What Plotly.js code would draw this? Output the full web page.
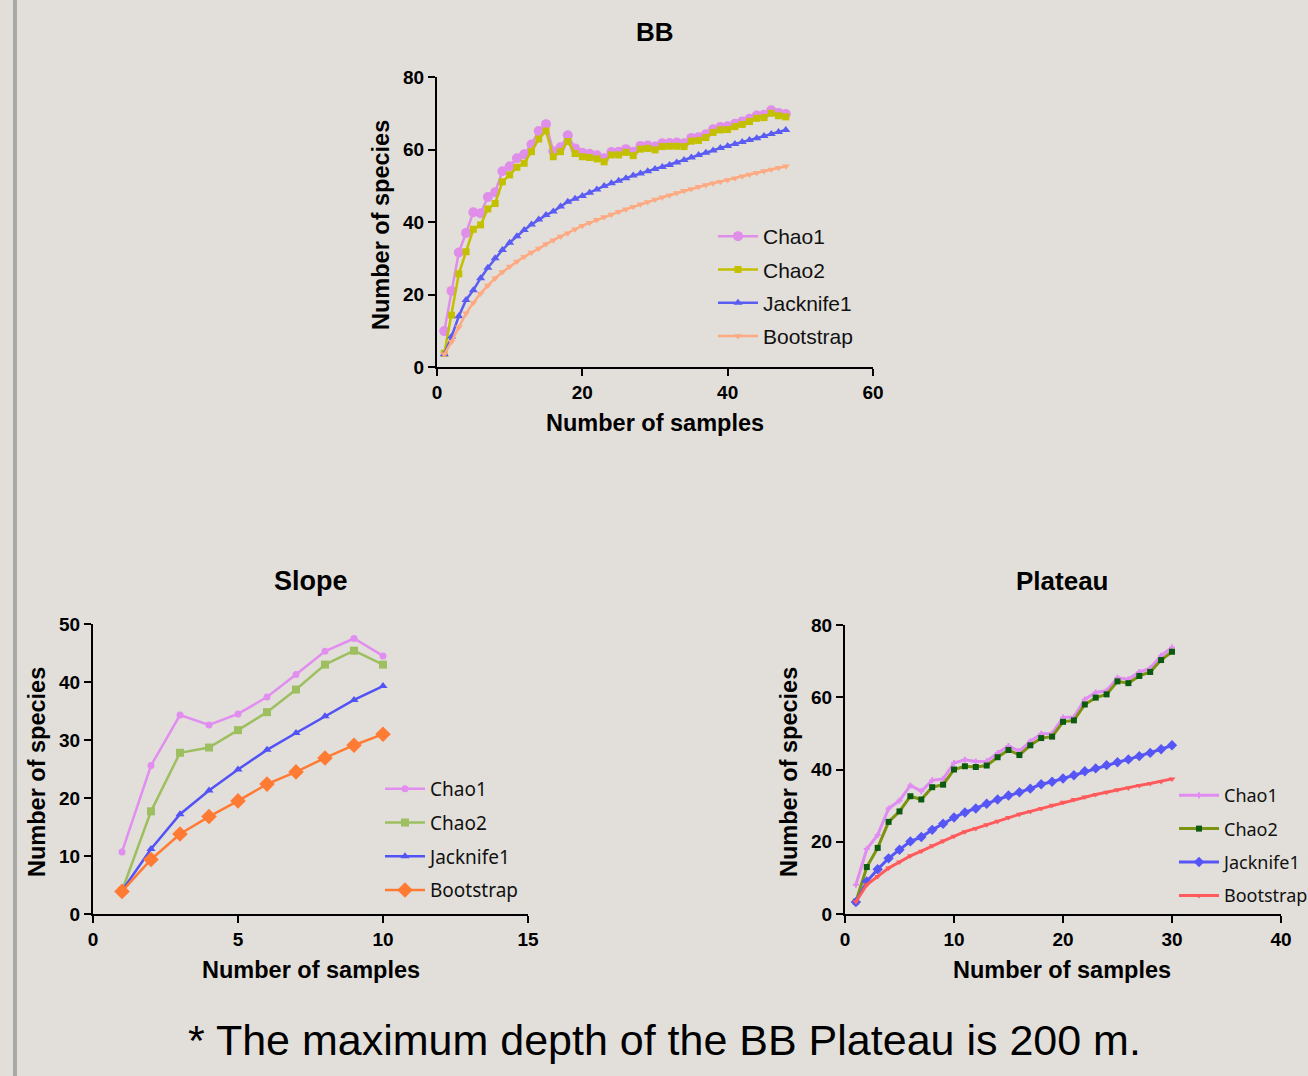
<!DOCTYPE html>
<html>
<head>
<meta charset="utf-8">
<script src="https://cdn.plot.ly/plotly-3.0.1.min.js"></script>
<style>
html,body{margin:0;padding:0;background:#e2dfda;}
#chart{width:1308px;height:1076px;}
</style>
</head>
<body>
<div id="chart"></div>
<script>
// ---------- DATA ----------
const seriesNames = ["Chao1", "Chao2", "Jacknife1", "Bootstrap"];

const bbSamples = [1,2,3,4,5,6,7,8,9,10,11,12,13,14,15,16,17,18,19,20,21,22,23,24,25,26,27,28,29,30,31,32,33,34,35,36,37,38,39,40,41,42,43,44,45,46,47,48];
const bbChao1 = [9.9,21,31.6,37,42.7,42.4,46.9,48.2,54,55.4,57.6,58.7,61.4,65.1,67,59.5,60.6,63.9,60.3,59.1,58.8,58.4,57.6,59.3,59.4,60.1,59.4,61,61.1,60.8,61.7,61.8,61.9,61.7,63.2,63.4,64.2,65.6,66.2,66.4,67.1,67.7,68.5,69.4,69.6,70.8,70.1,69.8];
const bbChao2 = [3.8,14.3,25.7,31.8,38,39.2,43.6,45.1,51.1,53,55.1,56.2,59.4,62.9,65.1,58,59.4,62.2,58.9,58,57.8,57.4,56.6,58.5,58.5,59.2,58.3,60.1,60.3,59.9,60.8,60.9,60.9,60.8,62.3,62.5,63.3,64.7,65.4,65.5,66.3,66.9,67.7,68.6,68.8,70,69.3,69];
const bbJack1 = [3.5,8.4,14,18.5,21.2,24.5,27.4,30,32.3,34.3,36.1,37.8,39.3,40.7,41.9,42.9,44.3,45.6,46.4,47.2,48.1,49,49.9,50.7,51.4,52.1,52.8,53.4,54,54.6,55.2,55.7,56.4,57.1,57.8,58.5,59.1,59.7,60.4,61,61.5,62.1,62.6,63.1,63.7,64.3,64.8,65.4];
const bbBoot = [3.5,7,11,14.8,17.7,20.3,22.5,24.5,26.2,27.7,29.1,30.4,31.6,32.7,33.9,35,36,36.9,38,39,39.8,40.6,41.4,42.1,42.8,43.5,44.2,44.9,45.5,46.2,46.8,47.4,48,48.6,49.1,49.7,50.2,50.7,51.1,51.6,52.1,52.6,53.1,53.6,54.1,54.5,55,55.4];

const slopeSamples = [1,2,3,4,5,6,7,8,9,10];
const slopeChao1 = [10.7,25.6,34.3,32.6,34.5,37.4,41.3,45.3,47.5,44.5];
const slopeChao2 = [4.0,17.7,27.8,28.7,31.7,34.8,38.7,43.0,45.4,43.0];
const slopeJack1 = [4.0,11.2,17.2,21.3,24.9,28.3,31.2,34.1,36.9,39.3];
const slopeBoot = [3.9,9.4,13.8,16.8,19.5,22.4,24.5,26.9,29.1,31.0];

const plateauSamples = [1,2,3,4,5,6,7,8,9,10,11,12,13,14,15,16,17,18,19,20,21,22,23,24,25,26,27,28,29,30];
const plateauChao1 = [8.1,18,21.9,29.2,31.4,35.6,34,37,37.4,41.8,42.7,42.2,42.3,44.6,46.5,45.1,47.8,49.9,50,54.4,54.5,59.4,61.3,61.8,65.4,65,67,68,71.5,73.8];
const plateauChao2 = [3.4,13,18.3,25.5,28.4,32.6,31.7,35.1,35.8,40,40.9,40.7,41.1,43.4,45.4,44,46.7,48.7,49.1,53.2,53.6,58,59.9,60.8,64.4,63.9,65.9,67,70.3,72.6];
const plateauJack1 = [3.3,9,12.4,15.4,17.8,20.1,21.3,23.3,25,26.7,28.1,29.2,30.5,31.7,32.8,33.7,34.7,35.9,36.6,37.5,38.4,39.5,40.3,41.2,42,42.8,43.7,44.6,45.6,46.7];
const plateauBoot = [3.4,8.1,10.4,12.7,14.4,16.1,17.4,18.9,20.2,21.5,22.8,23.7,24.7,25.7,26.7,27.6,28.4,29.2,30.1,30.9,31.7,32.4,33.1,33.7,34.4,34.9,35.6,36.1,36.7,37.4];

const panelTitles = ["BB", "Slope", "Plateau"];
const xTitle = "Number of samples";
const yTitle = "Number of species";
const note = "* The maximum depth of the BB Plateau is 200 m.";

// ---------- LAYOUT HELPERS ----------
const W = 1308, H = 1076;
const px = x => x / W;
const py = y => 1 - y / H;

const tickFont = {family: "Liberation Sans, Arial, sans-serif", size: 19, weight: "bold", color: "#000"};
function axis(d0, d1, range, dtick, anchor, isY) {
  const dom = isY ? [py(d1), py(d0)] : [px(d0), px(d1)];
  return {
    domain: dom, range: range, dtick: dtick, tick0: 0, anchor: anchor,
    showline: true, linewidth: 2, linecolor: "#000",
    ticks: "outside", ticklen: 7, tickwidth: 2, tickcolor: "#000",
    showgrid: false, zeroline: false, tickfont: tickFont, fixedrange: true,
    automargin: false
  };
}

function tr(x, y, name, xa, ya, leg, color, lw, sym, msize, mcolor) {
  return {
    x: x, y: y, name: name, type: "scatter", mode: "lines+markers",
    xaxis: xa, yaxis: ya, legend: leg, legendgroup: leg + name,
    line: {color: color, width: lw},
    marker: {symbol: sym, size: msize, color: mcolor || color, line: {width: 0}},
    cliponaxis: false
  };
}

const traces = [
  tr(bbSamples, bbChao1, seriesNames[0], "x", "y", "legend", "#df8ee9", 2.5, "circle", 10),
  tr(bbSamples, bbChao2, seriesNames[1], "x", "y", "legend", "#c3c000", 2.5, "square", 7),
  tr(bbSamples, bbJack1, seriesNames[2], "x", "y", "legend", "#5a5cf2", 2.5, "triangle-up", 8),
  tr(bbSamples, bbBoot, seriesNames[3], "x", "y", "legend", "#fdaa82", 2.5, "triangle-down", 7),

  tr(slopeSamples, slopeChao1, seriesNames[0], "x2", "y2", "legend2", "#e18ef0", 2.5, "circle", 7),
  tr(slopeSamples, slopeChao2, seriesNames[1], "x2", "y2", "legend2", "#9dbf5f", 2.5, "square", 8),
  tr(slopeSamples, slopeJack1, seriesNames[2], "x2", "y2", "legend2", "#5252f5", 2.5, "triangle-up", 8),
  tr(slopeSamples, slopeBoot, seriesNames[3], "x2", "y2", "legend2", "#ff7b34", 2.5, "diamond", 12),

  tr(plateauSamples, plateauChao1, seriesNames[0], "x3", "y3", "legend3", "#e08cf0", 3, "cross", 5),
  tr(plateauSamples, plateauChao2, seriesNames[1], "x3", "y3", "legend3", "#7a9310", 3, "square", 6, "#0b5a10"),
  tr(plateauSamples, plateauJack1, seriesNames[2], "x3", "y3", "legend3", "#5656f7", 3, "diamond", 8),
  tr(plateauSamples, plateauBoot, seriesNames[3], "x3", "y3", "legend3", "#ff5a5c", 3, "triangle-down", 6)
];

function legend(x, y, family, size, gap) {
  return {
    xref: "container", yref: "container",
    x: px(x), y: py(y), xanchor: "left", yanchor: "top",
    bgcolor: "rgba(0,0,0,0)", borderwidth: 0,
    font: {family: family, size: size, color: "#111"},
    traceorder: "grouped", tracegroupgap: gap, itemwidth: 40
  };
}

const boldTitle = {family: "Liberation Sans, Arial, sans-serif", weight: "bold", color: "#000"};
function ann(text, x, y, size, angle, extra) {
  return Object.assign({
    text: text, x: px(x), y: py(y), xref: "paper", yref: "paper",
    xanchor: "center", yanchor: "middle", showarrow: false,
    textangle: angle || 0,
    font: Object.assign({}, boldTitle, {size: size})
  }, extra || {});
}

const layout = {
  width: W, height: H,
  margin: {l: 0, r: 0, t: 0, b: 0, autoexpand: false},
  paper_bgcolor: "#e2dfda", plot_bgcolor: "rgba(0,0,0,0)",
  showlegend: true,
  xaxis: axis(437, 873, [0, 60], 20, "y", false),
  yaxis: axis(77, 367, [0, 80], 20, "x", true),
  xaxis2: axis(93, 528, [0, 15], 5, "y2", false),
  yaxis2: axis(624, 914, [0, 50], 10, "x2", true),
  xaxis3: axis(845, 1281, [0, 40], 10, "y3", false),
  yaxis3: axis(625, 914, [0, 80], 20, "x3", true),
  legend: legend(713, 216, "Liberation Sans, Arial, sans-serif", 21, 3),
  legend2: legend(380, 770, "Noto Sans, Open Sans, sans-serif", 19, 6),
  legend3: legend(1174, 777, "Noto Sans, Open Sans, sans-serif", 18, 7),
  annotations: [
    ann(panelTitles[0], 655, 32, 26),
    ann(panelTitles[1], 311, 581, 27),
    ann(panelTitles[2], 1062, 581, 26),
    ann(yTitle, 381, 225, 23.5, -90),
    ann(xTitle, 655, 423, 23.5),
    ann(yTitle, 37, 772, 23.5, -90),
    ann(xTitle, 311, 970, 23.5),
    ann(yTitle, 789, 772, 23.5, -90),
    ann(xTitle, 1062, 970, 23.5),
    ann(note, 664, 1040, 43, 0, {font: {family: "Liberation Sans, Arial, sans-serif", size: 43, color: "#000"}})
  ],
  shapes: [
    {type: "rect", xref: "paper", yref: "paper", x0: px(13), x1: px(17), y0: 0, y1: 1,
     fillcolor: "#a8a8a8", line: {width: 0}, layer: "below"}
  ]
};

Plotly.newPlot("chart", traces, layout, {displayModeBar: false, staticPlot: true});
</script>
</body>
</html>
